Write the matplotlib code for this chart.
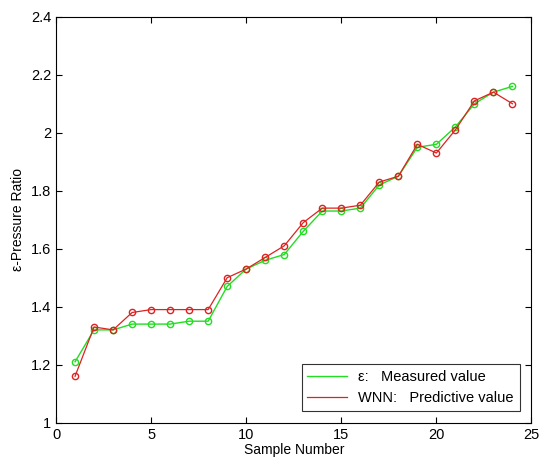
import numpy as np
import matplotlib.pyplot as plt

plt.rcParams['font.family'] = ['Liberation Sans', 'DejaVu Sans']

muestras = np.arange(1, 25)
medido = [1.21, 1.32, 1.32, 1.34, 1.34, 1.34, 1.35, 1.35, 1.47, 1.53, 1.56, 1.58,
          1.66, 1.73, 1.73, 1.74, 1.82, 1.85, 1.95, 1.96, 2.02, 2.10, 2.14, 2.16]
predicho = [1.16, 1.33, 1.32, 1.38, 1.39, 1.39, 1.39, 1.39, 1.50, 1.53, 1.57, 1.61,
            1.69, 1.74, 1.74, 1.75, 1.83, 1.85, 1.96, 1.93, 2.01, 2.11, 2.14, 2.10]

fig = plt.figure(figsize=(5.44, 4.66), dpi=100)
ax = fig.add_axes([0.103, 0.093, 0.874, 0.871])

ax.plot(muestras, medido, '-o', color='#22dd22', markerfacecolor='none', markersize=4.5,
        markeredgewidth=1.0, linewidth=1.0, label='ε:   Measured value')
ax.plot(muestras, predicho, '-o', color='#dd2222', markerfacecolor='none', markersize=4.5,
        markeredgewidth=1.0, linewidth=0.9, label='WNN:   Predictive value')

ax.set_xlim(0, 25)
ax.set_ylim(1, 2.4)
ax.set_xticks([0, 5, 10, 15, 20, 25])
ax.set_yticks(np.arange(1, 2.41, 0.2))
ax.set_yticklabels(['1', '1.2', '1.4', '1.6', '1.8', '2', '2.2', '2.4'])
ax.tick_params(direction='in', top=True, right=True, labelsize=10.5, length=4)
ax.set_xlabel('Sample Number', fontsize=10, labelpad=1)
ax.set_ylabel('ε-Pressure Ratio', fontsize=10)

leg = ax.legend(loc='lower right', fontsize=10.5, fancybox=False, edgecolor='black',
                handlelength=2.7, borderaxespad=0.8)
leg.get_frame().set_linewidth(0.8)
for h in leg.legend_handles:
    h.set_marker('')  # la leyenda solo muestra la linea

fig.savefig('out.png', dpi=100)
